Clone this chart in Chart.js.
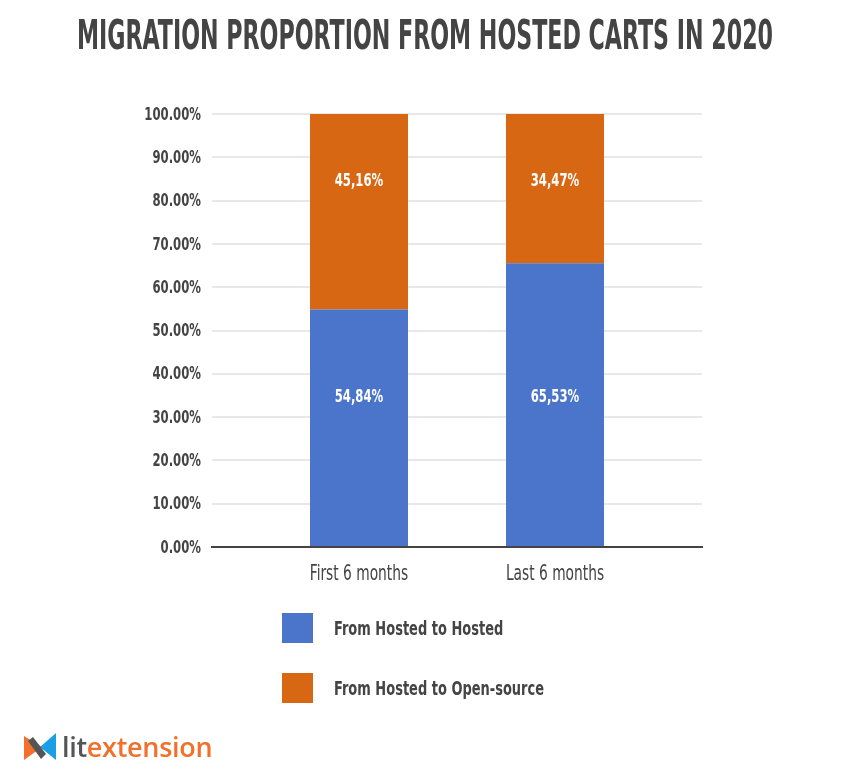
<!DOCTYPE html>
<html>
<head>
<meta charset="utf-8">
<script src="https://cdn.jsdelivr.net/npm/chart.js@4/dist/chart.umd.min.js"></script>
<style>
  html, body { margin: 0; padding: 0; background: #fff; }
  #wrap { position: relative; width: 850px; height: 773px; overflow: hidden; }
  #chart { position: absolute; left: 0; top: 0; }
  .legend { position: absolute; left: 282px; top: 613px; font: bold 19px "Liberation Sans Narrow", "DejaVu Sans Condensed", sans-serif; color: #444; }
  .legend-item { display: flex; align-items: center; height: 30px; margin-bottom: 30px; }
  .legend-item span.box { width: 31px; height: 30px; margin-right: 21px; flex: none; }
  .legend-item span.lbl { display: inline-block; transform: scaleX(0.76); transform-origin: left center; white-space: nowrap; }
  .logo { position: absolute; left: 24px; top: 728px; display: flex; align-items: center; }
  .logo .txt { font: 600 27px "Open Sans", sans-serif; margin-left: 6px; letter-spacing: -0.3px; }
  .logo .lit { color: #555; }
  .logo .ext { color: #f0702c; }
</style>
</head>
<body>
<div id="wrap">
  <canvas id="chart" width="850" height="773"></canvas>
  <div class="legend" id="legend"></div>
  <div class="logo">
    <svg width="32" height="30" viewBox="0 0 32 30">
      <polygon points="0,4 18,15 0,28" fill="#f0702c"/>
      <polygon points="32,1 32,28 16,15" fill="#1a9ee6"/>
      <polygon points="4,9 9,5 22,22 17,27" fill="#555"/>
    </svg>
    <div class="txt"><span class="lit">lit</span><span class="ext">extension</span></div>
  </div>
</div>
<script>
// data
const title = 'MIGRATION PROPORTION FROM HOSTED CARTS IN 2020'
const categories = ['First 6 months', 'Last 6 months']
const hostedToHosted = [54.84, 65.53]
const hostedToOpenSource = [45.16, 34.47]
const seriesNames = ['From Hosted to Hosted', 'From Hosted to Open-source']
const seriesColors = ['#4a75cb', '#d86714']
const yTicks = [0, 10, 20, 30, 40, 50, 60, 70, 80, 90, 100]

const narrow = '"Liberation Sans Narrow", "DejaVu Sans Condensed", sans-serif'

// squeeze text horizontally, the original uses a DIN condensed face
const drawCondensed = (ctx, text, x, y, sx) => {
  ctx.save()
  ctx.translate(x, y)
  ctx.scale(sx, 1)
  ctx.fillText(text, 0, 0)
  ctx.restore()
}

const titlePlugin = {
  id: 'condensedTitle',
  afterDraw(chart) {
    const ctx = chart.ctx
    ctx.save()
    ctx.font = 'bold 40px ' + narrow
    ctx.fillStyle = '#444'
    ctx.textAlign = 'center'
    ctx.textBaseline = 'alphabetic'
    const w = ctx.measureText(title).width
    drawCondensed(ctx, title, 425, 49, 696 / w)
    ctx.restore()
  }
}

// tick labels, drawn from the scales' own ticks but condensed
const axisLabels = {
  id: 'axisLabels',
  afterDraw(chart) {
    const ctx = chart.ctx
    const ys = chart.scales.y
    const xs = chart.scales.x
    ctx.save()
    ctx.fillStyle = '#444'
    ctx.textBaseline = 'middle'
    ctx.font = 'bold 18px ' + narrow
    ctx.textAlign = 'right'
    ys.ticks.forEach(t => {
      drawCondensed(ctx, t.value.toFixed(2) + '%', ys.right - 11, ys.getPixelForValue(t.value) + 1, 0.72)
    })
    ctx.font = '21px ' + narrow
    ctx.textAlign = 'center'
    xs.ticks.forEach(t => {
      drawCondensed(ctx, categories[t.value], xs.getPixelForValue(t.value), xs.top + 28, 0.73)
    })
    ctx.restore()
  }
}

// value labels inside the bars (the original puts them at fixed heights)
const barLabels = {
  id: 'barLabels',
  afterDatasetsDraw(chart, args, opts) {
    const ctx = chart.ctx
    const y = chart.scales.y
    ctx.save()
    ctx.font = 'bold 18px ' + narrow
    ctx.fillStyle = '#fff'
    ctx.textAlign = 'center'
    ctx.textBaseline = 'middle'
    chart.data.datasets.forEach((ds, i) => {
      chart.getDatasetMeta(i).data.forEach((bar, j) => {
        const v = ds.data[j].y
        drawCondensed(ctx, v.toFixed(2).replace('.', ',') + '%', bar.x, y.getPixelForValue(opts.at[i]), 0.72)
      })
    })
    ctx.restore()
  }
}

const setupChart = () => {
  const ctx = document.getElementById('chart').getContext('2d')
  const chart = new Chart(ctx, {
    type: 'bar',
    data: {
      datasets: [
        { label: seriesNames[0], data: hostedToHosted.map((v, i) => ({ x: i, y: v })), backgroundColor: seriesColors[0] },
        { label: seriesNames[1], data: hostedToOpenSource.map((v, i) => ({ x: i, y: v })), backgroundColor: seriesColors[1] }
      ]
    },
    options: {
      responsive: false,
      animation: false,
      layout: { padding: { left: 12, right: 148, top: 114, bottom: 166 } },
      barPercentage: 0.5,
      categoryPercentage: 1,
      scales: {
        x: {
          type: 'linear',
          stacked: true,
          offset: false,
          min: -0.75,
          max: 1.75,
          afterBuildTicks: (s) => { s.ticks = categories.map((c, i) => ({ value: i })) },
          afterFit: (s) => { s.height = 60 },
          grid: { display: false, offset: false },
          border: { display: true, color: '#444', width: 2 },
          ticks: { display: false }
        },
        y: {
          stacked: true,
          min: 0,
          max: 100,
          afterBuildTicks: (s) => { s.ticks = yTicks.map(v => ({ value: v })) },
          afterFit: (s) => { s.width = 200 },
          grid: { color: '#e8e8e8', lineWidth: 2, drawTicks: false },
          border: { display: false },
          ticks: { display: false }
        }
      },
      plugins: {
        legend: { display: false },
        tooltip: { enabled: false },
        barLabels: { at: [34.6, 84.5] }
      }
    },
    plugins: [titlePlugin, axisLabels, barLabels]
  })

  // legend listed vertically under the plot
  const lg = document.getElementById('legend')
  chart.data.datasets.forEach(ds => {
    const item = document.createElement('div')
    item.className = 'legend-item'
    item.innerHTML = '<span class="box" style="background:' + ds.backgroundColor + '"></span><span class="lbl">' + ds.label + '</span>'
    lg.appendChild(item)
  })
}
document.addEventListener('DOMContentLoaded', () => {
  setupChart()
})
</script>
</body>
</html>
